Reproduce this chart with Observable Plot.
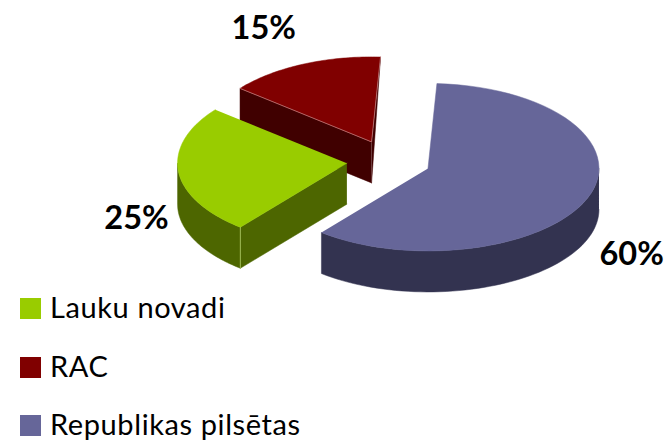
<!DOCTYPE html>
<html><head><meta charset="utf-8">
<script src="https://cdn.jsdelivr.net/npm/d3@7"></script>
<script src="https://cdn.jsdelivr.net/npm/@observablehq/plot@0.6"></script>
<style>
html,body{margin:0;padding:0;background:#fff;overflow:hidden;height:441px}
svg{display:block}
#legend{display:flex;flex-direction:column;gap:37.5px;padding-left:20px;font:29px Lato,sans-serif;letter-spacing:.6px;color:#000}
#legend .row{display:flex;align-items:center;height:21px;white-space:nowrap}
#legend i{display:block;width:21px;height:21px;margin-right:9px;flex:none}
#legend span{position:relative;top:-2px}
</style></head><body>
<div id="chart"></div><div id="legend"></div>
<script>
const categories = ["Lauku novadi", "RAC", "Republikas pilsētas"];
const shares = [25, 15, 60];
const labels = ["25%", "15%", "60%"];
const topColors = ["#99cc00", "#800000", "#666699"];
const sideColors = ["#4d6600", "#400000", "#333350"];
const edgeColors = ["#b9d86a", "#c98a8a", "#8a8ab0"];
const labelNudge = [[-42, 47], [-39, -36], [44, 57]];

// View of the tilted pie
const W = 667, H = 298, cx = 388.2, cy = 160.5, rx = 171, ry = 85;
const firstAngle = 219, explode = 0.246, depth = 41 / ry;
const frontSquash = 0.97, leftSquash = 0.99;

const rad = d => d * Math.PI / 180;
const rim = (t, o, dz = 0) => {
  const s = Math.sin(rad(t)), c = Math.cos(rad(t));
  return {x: o.x + s * (s < 0 ? leftSquash : 1), y: o.y - c * (c < 0 ? frontSquash : 1) + dz};
};

let start = firstAngle;
const slices = shares.map((v, i) => {
  const a0 = start, a1 = start + v * 3.6; start = a1;
  const mid = (a0 + a1) / 2;
  const apex = {x: explode * Math.sin(rad(mid)), y: -explode * Math.cos(rad(mid))};
  return {i, a0, a1, mid, apex};
});
const arc = (a0, a1, o, dz = 0) => d3.range(0, 61).map(k => rim(a0 + (a1 - a0) * k / 60, o, dz));

const marks = [];
const face = (pts, fill) => marks.push(Plot.line(pts, {x: "x", y: "y", fill, stroke: fill, strokeWidth: 0.5}));
const edge = (pts, stroke) => marks.push(Plot.line(pts, {x: "x", y: "y", stroke, strokeWidth: 0.7}));

const drawOrder = [1, 0, 2];
for (const i of drawOrder) {
  const s = slices[i], o = s.apex;
  const dn = p => ({x: p.x, y: p.y + depth});
  const apexTop = {x: o.x, y: o.y}, p0 = rim(s.a0, o), p1 = rim(s.a1, o);
  // outer wall: only where the rim faces the viewer (angles may run past one full turn)
  for (const turn of [0, 360]) {
    const lo = Math.max(s.a0, 90 + turn), hi = Math.min(s.a1, 270 + turn);
    if (hi > lo) {
      const front = arc(lo, hi, o);
      face([...front, ...front.map(dn).reverse()], sideColors[i]);
    }
  }
  // radial walls facing the viewer
  if (i === 0) face([apexTop, p0, dn(p0), dn(apexTop)], sideColors[i]);
  if (i === 1) {
    face([apexTop, p0, dn(p0), dn(apexTop)], sideColors[i]);
    face([apexTop, p1, dn(apexTop)], sideColors[i]);
  }
  // top surface
  face([apexTop, ...arc(s.a0, s.a1, o)], topColors[i]);
  if (i === 1) edge([p0, apexTop, p1], edgeColors[i]);
  if (i === 0) edge([p0, dn(p0)], edgeColors[i]);
}

slices.forEach(s => {
  const p = rim(s.mid, s.apex);
  marks.push(Plot.text([p], {
    x: "x", y: "y", text: () => labels[s.i],
    dx: labelNudge[s.i][0], dy: labelNudge[s.i][1],
    fontFamily: "Lato, sans-serif", fontWeight: 700, fontSize: 32.5, fill: "#000",
    textAnchor: "middle", lineAnchor: "middle"
  }));
});

const chart = Plot.plot({
  width: W, height: H, margin: 0,
  x: {domain: [-cx / rx, (W - cx) / rx], range: [0, W], axis: null},
  y: {domain: [-cy / ry, (H - cy) / ry], range: [0, H], axis: null},
  marks
});
document.getElementById("chart").append(chart);

const legend = document.getElementById("legend");
categories.forEach((c, i) => {
  const row = document.createElement("div"); row.className = "row";
  const sw = document.createElement("i"); sw.style.background = topColors[i];
  const t = document.createElement("span"); t.textContent = c;
  row.append(sw, t); legend.append(row);
});
</script></body></html>
